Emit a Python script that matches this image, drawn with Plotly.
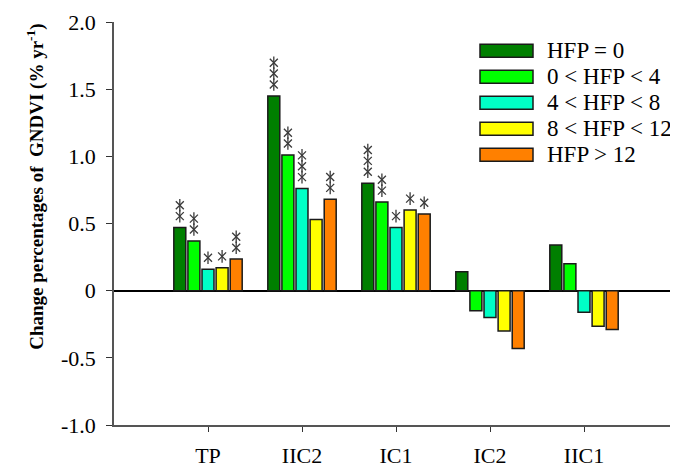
import plotly.graph_objects as go

categories = ["TP", "IIC2", "IC1", "IC2", "IIC1"]
series_names = ["HFP = 0", "0 < HFP < 4", "4 < HFP < 8", "8 < HFP < 12", "HFP > 12"]
series_colors = ["#007F00", "#00FF00", "#00FFC6", "#FFFF00", "#FF8000"]

hfp_0 = [0.47, 1.45, 0.80, 0.14, 0.34]
hfp_0_4 = [0.37, 1.01, 0.66, -0.15, 0.20]
hfp_4_8 = [0.16, 0.76, 0.47, -0.20, -0.16]
hfp_8_12 = [0.17, 0.53, 0.60, -0.30, -0.265]
hfp_12 = [0.235, 0.68, 0.57, -0.43, -0.29]
series_values = [hfp_0, hfp_0_4, hfp_4_8, hfp_8_12, hfp_12]

# number of significance stars per bar (rows = series, cols = categories)
stars_0 = [2, 3, 3, 0, 0]
stars_0_4 = [2, 2, 2, 0, 0]
stars_4_8 = [1, 3, 1, 0, 0]
stars_8_12 = [1, 0, 1, 0, 0]
stars_12 = [2, 2, 1, 0, 0]
series_stars = [stars_0, stars_0_4, stars_4_8, stars_8_12, stars_12]

y_tickvals = [-1.0, -0.5, 0, 0.5, 1.0, 1.5, 2.0]
y_ticktext = ["-1.0", "-0.5", "0", "0.5", "1.0", "1.5", "2.0"]

FONT = "Times New Roman, Liberation Serif, serif"
OFF = 8  # page body margin in the browser
W, H = 678 - OFF, 468 - OFF
ML, MR, MT, MB = 114 - OFF, 0, 22 - OFF, 40
PW, PH = W - ML - MR, H - MT - MB

# helpers take window pixel coordinates
def px_x(x):
    return (x - OFF - ML) / PW

def px_y(y):
    return (H + OFF - MB - y) / PH

fig = go.Figure()
cat_idx = list(range(len(categories)))
for name, color, vals in zip(series_names, series_colors, series_values):
    fig.add_trace(go.Bar(
        x=cat_idx, y=vals, name=name, showlegend=False,
        marker=dict(color=color, line=dict(color="#1a1a1a", width=1.5)),
    ))

# significance stars aligned to the grouped bar slots
n = len(series_names)
bargap = 0.25
slot = (1 - bargap) / n
sx, sy = [], []
for s, (vals, stars) in enumerate(zip(series_values, series_stars)):
    for c, (v, k) in enumerate(zip(vals, stars)):
        for j in range(k):
            sx.append(c + (s - (n - 1) / 2) * slot)
            sy.append(v + 0.085 + 0.081 * j)
for sym in ["x-thin-open", "line-ns-open"]:
    fig.add_trace(go.Scatter(
        x=sx, y=sy, mode="markers", showlegend=False, hoverinfo="skip",
        marker=dict(symbol=sym, size=8 if sym == "x-thin-open" else 9,
                    color="#3a3a3a", line=dict(color="#3a3a3a", width=1.3)),
    ))

# manual legend with wide swatches
shapes = []
annotations = []
row0, drow = 51, 26.2
for i, (name, color) in enumerate(zip(series_names, series_colors)):
    yc = row0 + i * drow
    shapes.append(dict(type="rect", xref="paper", yref="paper",
                       x0=px_x(480), x1=px_x(533), y0=px_y(yc + 6.5), y1=px_y(yc - 6.5),
                       fillcolor=color, line=dict(color="#1a1a1a", width=1.5)))
    annotations.append(dict(xref="paper", yref="paper", x=px_x(545), y=px_y(yc),
                            xanchor="left", yanchor="middle", showarrow=False,
                            text=name, font=dict(family=FONT, size=23, color="black")))

annotations.append(dict(
    xref="paper", yref="paper", x=px_x(36), y=px_y(188), xanchor="center", yanchor="middle",
    showarrow=False, textangle=-90,
    text="<b>Change percentages of \u00a0GNDVI (% yr<sup>-1</sup>)</b>",
    font=dict(family=FONT, size=19, color="black"),
))

fig.update_layout(
    width=W, height=H,
    margin=dict(l=ML, r=MR, t=MT, b=MB),
    paper_bgcolor="white", plot_bgcolor="white",
    barmode="group", bargap=bargap, bargroupgap=0.15,
    shapes=shapes, annotations=annotations,
    font=dict(family=FONT, size=22, color="black"),
    xaxis=dict(range=[-1, 5], tickvals=cat_idx, ticktext=categories,
               showgrid=False, zeroline=False, showline=True, linecolor="#555",
               linewidth=1.5, ticks="outside", ticklen=5, tickcolor="#333",
               ticklabelstandoff=5, tickfont=dict(family=FONT, size=22)),
    yaxis=dict(range=[-1, 2], tickvals=y_tickvals, ticktext=y_ticktext,
               showgrid=False, zeroline=True, zerolinecolor="black", zerolinewidth=1.5,
               showline=True, linecolor="#555", linewidth=1.5,
               ticks="outside", ticklen=6, tickcolor="#333",
               ticklabelstandoff=6, tickfont=dict(family=FONT, size=22)),
)

fig.write_html("out.html")
